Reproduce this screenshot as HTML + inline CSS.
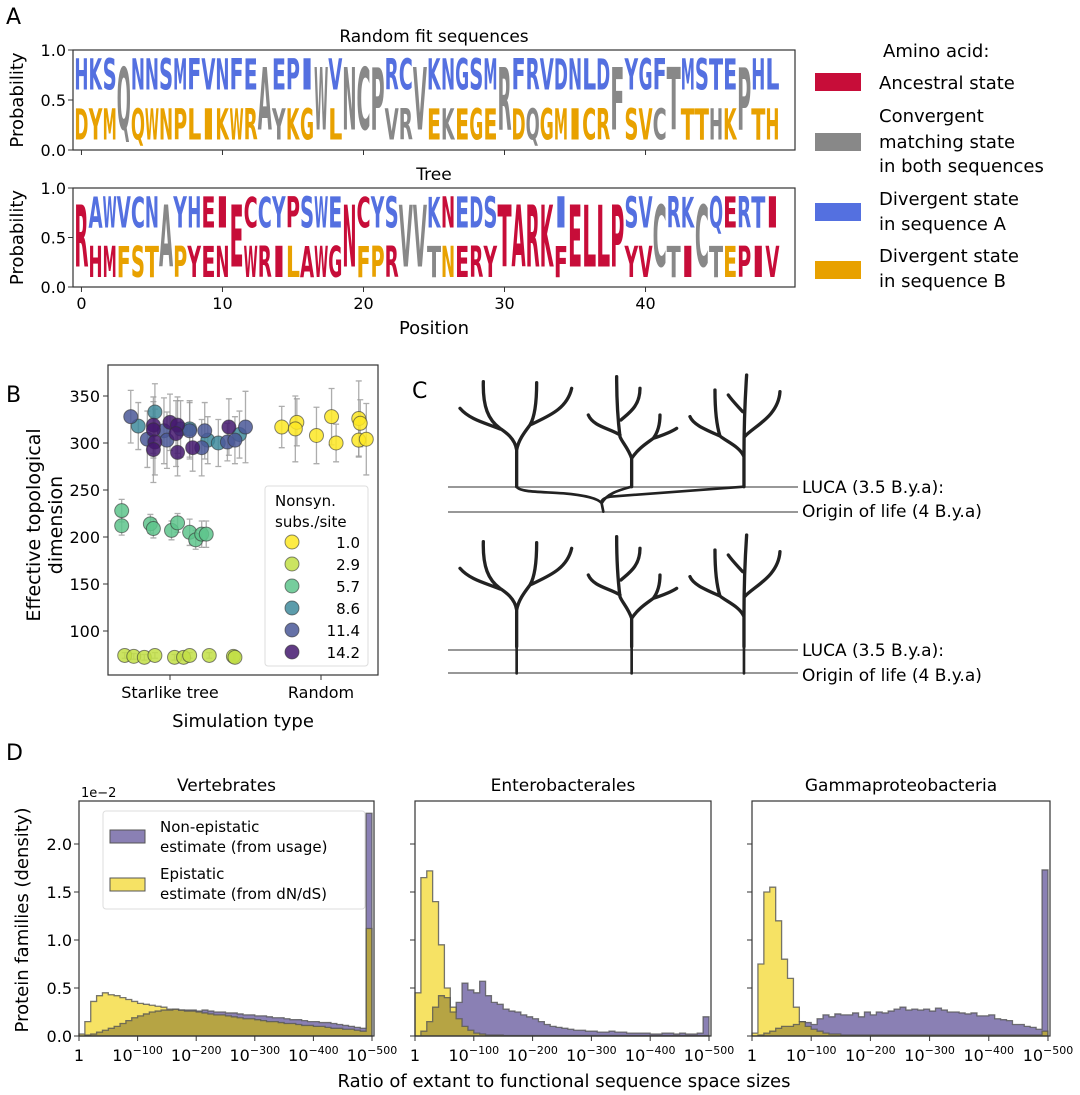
<!DOCTYPE html>
<html><head><meta charset="utf-8">
<style>
html,body{margin:0;padding:0;background:#fff;}
svg{display:block;font-family:"DejaVu Sans","Liberation Sans",sans-serif;}
</style></head>
<body>
<svg id="fig" width="1080" height="1095" viewBox="0 0 1080 1095" xmlns="http://www.w3.org/2000/svg">
<g id="panelA"></g>
<g id="panelB"></g>
<g id="panelC"></g>
<g id="panelD"></g>
</svg>
<script>
// ---------- Panel A data ----------
const aPositions = [0,10,20,30,40];
const randTop    = "HKSQNNSMFVNFEAEPIWVNCPRCVKNGSMRFRVDNLDFYGFTMSTEPHL".split("");
const randBot    = "DYMQQWNPLIKWRAYKGWLNCPVRVEKEGERDQGMICRFSVCTTTHKPTH".split("");
const randTopCol = "bbbgbbbbbbbbbgbbbgbgggbbgbbbbbgbbbbbbbgbbbgbbbbgbb".split("");
const randBotCol = "ooogoooooooooogoooogogggoogooooogoooooooogooogoooogoo".split("").slice(0,50);
const treeTop    = "RAWVCNAYHEIECCYPSWENCYSVVKNEDSTARKIELLPSVCRKCQERTI".split("");
const treeBot    = "RHMFSTAPYENEWRILAWGNFPRVVTNERYTARKFELLPYVCTICTEPIV".split("");
const treeTopCol = "rbbbbbgbbrrrrbbrbbbrrbbggbrbbbrrrrbrrrrbbgbbgbrbbr".split("");
const treeBotCol = "rrrooogoryrrrrrorrrroorrggorrrrrrrrrrrrrrrgrrgorrrr".split("");
// ---------- Panel B data ----------
const bLegend = ["1.0","2.9","5.7","8.6","11.4","14.2"];
const bColors = ["#fde725","#c2df45","#5ec48c","#3f8b9c","#4a5898","#44196e"];
const s1x=[0.74,0.84,0.83,0.97,1.07,1.10,1.25,1.26,1.25,1.30];
const s1y=[317,322,315,308,328,300,326,321,303,304];
const s1e=[22,25,35,30,30,20,40,25,18,38];
const s2x=[-0.30,-0.24,-0.17,-0.10,0.03,0.09,0.13,0.26,0.42,0.43];
const s2y=[74,73,72,74,72,72,74,74,73,72];
const s2e=[3,3,3,3,3,3,3,3,4,4];
const s3x=[-0.32,-0.32,-0.13,-0.11,0.01,0.05,0.13,0.17,0.21,0.24];
const s3y=[228,212,214,209,207,215,205,197,203,203];
const s3e=[12,10,10,10,10,10,14,10,14,14];
const s4x=[-0.21,-0.10,0.07,0.13,0.25,0.32,0.46];
const s4y=[318,333,315,315,303,300,309];
const s4e=[25,30,30,30,25,25,25];
const s5x=[-0.26,-0.15,-0.04,-0.02,0.13,0.23,0.21,0.38,0.43,0.50];
const s5y=[328,304,313,303,313,313,295,301,303,317];
const s5e=[28,30,35,30,30,30,30,20,25,38];
const s6x=[-0.11,-0.11,-0.10,-0.11,0.00,0.05,0.04,0.05,0.15,0.39];
const s6y=[319,314,301,293,322,319,310,290,295,317];
const s6e=[30,30,35,35,30,30,35,25,25,30];
const bTicks=[100,150,200,250,300,350];
const bCats=["Starlike tree","Random"];
// ---------- Panel D data ----------
const dTitles=["Vertebrates","Enterobacterales","Gammaproteobacteria"];
const dYTicks=[0.0,0.5,1.0,1.5,2.0];
const dXTicks=[0,100,200,300,400,500];
const vertEpi=[0.02,0.15,0.36,0.42,0.45,0.43,0.42,0.40,0.38,0.36,0.34,0.33,0.32,0.31,0.30,0.28,0.28,0.27,0.26,0.26,0.25,0.24,0.23,0.22,0.22,0.21,0.20,0.19,0.18,0.18,0.17,0.16,0.15,0.15,0.14,0.13,0.13,0.12,0.11,0.11,0.10,0.10,0.09,0.08,0.08,0.07,0.07,0.06,0.05,1.12];
const vertNon=[0,0.01,0.02,0.04,0.06,0.08,0.10,0.13,0.16,0.19,0.21,0.23,0.25,0.26,0.27,0.27,0.28,0.27,0.27,0.27,0.26,0.27,0.26,0.25,0.25,0.24,0.24,0.23,0.22,0.22,0.21,0.21,0.20,0.19,0.19,0.18,0.17,0.17,0.16,0.15,0.15,0.14,0.14,0.13,0.12,0.11,0.10,0.09,0.08,2.32];
const entEpi=[0.45,1.65,1.72,1.40,0.95,0.50,0.30,0.18,0.10,0.06,0.03,0.02,0.01,0.01,0.01,0.005,0.005,0.005,0.005,0.005,0.005,0.005,0.005,0.005,0.005,0.005,0.005,0.005,0.005,0.005,0.005,0.005,0.005,0.005,0.005,0.005,0.005,0.005,0.005,0.005,0.005,0.005,0.005,0.005,0.005,0.005,0.005,0.005,0.005,0.005];
const entNon=[0,0.05,0.15,0.30,0.42,0.40,0.25,0.35,0.55,0.48,0.45,0.57,0.42,0.35,0.33,0.28,0.26,0.25,0.22,0.20,0.18,0.15,0.12,0.10,0.09,0.08,0.07,0.06,0.06,0.05,0.05,0.04,0.04,0.05,0.04,0.04,0.03,0.03,0.03,0.03,0.02,0.02,0.03,0.03,0.02,0.03,0.02,0.02,0.03,0.20];
const gamEpi=[0.03,0.75,1.50,1.55,1.20,0.80,0.60,0.30,0.15,0.10,0.07,0.05,0.03,0.02,0.02,0.01,0.01,0.01,0.01,0.01,0.01,0.01,0.01,0.01,0.01,0.01,0.01,0.01,0.01,0.01,0.01,0.01,0.01,0.01,0.01,0.01,0.01,0.01,0.01,0.01,0.01,0.01,0.01,0.01,0.01,0.01,0.01,0.01,0.01,0.05];
const gamNon=[0,0.01,0.03,0.05,0.08,0.10,0.10,0.12,0.15,0.14,0.12,0.18,0.22,0.20,0.23,0.22,0.22,0.24,0.20,0.25,0.22,0.25,0.24,0.26,0.28,0.30,0.27,0.28,0.27,0.28,0.26,0.29,0.27,0.25,0.25,0.24,0.23,0.24,0.21,0.21,0.22,0.18,0.17,0.16,0.12,0.12,0.10,0.09,0.07,1.73];

const NS="http://www.w3.org/2000/svg";
function el(parent,tag,attrs,text){const e=document.createElementNS(NS,tag);for(const k in attrs)e.setAttribute(k,attrs[k]);if(text!==undefined)e.textContent=text;parent.appendChild(e);return e;}
const COL={r:"#c70d39",b:"#5470e0",o:"#e8a100",g:"#888888",y:"#c70d39"};

// ---------- Panel A ----------
const A=document.getElementById('panelA');
let t;
t=el(A,'text',{x:6,y:24,'font-size':22});t.textContent="A";

const ax0=73, ax1=795, axMin=-0.6, axMax=50.6;
function xA(p){return ax0+(p-axMin)/(axMax-axMin)*(ax1-ax0);}
function drawLetter(g,ch,cx,w,yTop,h,color){
  const tx=el(g,'text',{x:0,y:0,'font-size':100,'font-weight':'bold',fill:color},ch);
  
  
  const bb=tx.getBBox();
  const sx=w/bb.width, sy=h/bb.height;
  tx.setAttribute('transform',`translate(${cx-w/2},${yTop}) scale(${sx},${sy}) translate(${-bb.x},${-bb.y})`);
}
function logo(yT,yB,title,tops,bots,tc,bc,name){
  const g=el(A,'g',{});
  
  
  const tt=el(g,'text',{x:434,y:yT-8,'font-size':17,'text-anchor':'middle'},title);
  
  const h=yB-yT, w=xA(1)-xA(0);
  for(let i=0;i<tops.length;i++){
    const cx=xA(i);
    if(tc[i]==='g' || (tops[i]===bots[i] && tc[i]===bc[i])){
      drawLetter(g,tops[i],cx,w,yT,h,COL[tc[i]]);
    } else {
      drawLetter(g,tops[i],cx,w,yT,h/2,COL[tc[i]]);
      drawLetter(g,bots[i],cx,w,yT+h/2,h/2,COL[bc[i]]);
    }
  }
  el(g,'rect',{x:ax0,y:yT,width:ax1-ax0,height:h,fill:'none',stroke:'#333','stroke-width':1.2});
  [[1.0,yT],[0.5,(yT+yB)/2],[0.0,yB]].forEach(([v,y])=>{
    el(g,'line',{x1:ax0-5,y1:y,x2:ax0,y2:y,stroke:'#333'});
    const l=el(g,'text',{x:ax0-7,y:y+6,'font-size':16,'text-anchor':'end'},v.toFixed(1));
    
  });
  const yl=el(g,'text',{x:0,y:0,'font-size':18,'text-anchor':'middle',transform:`translate(23,${(yT+yB)/2}) rotate(-90)`},"Probability");
  
  aPositions.forEach(p=>el(g,'line',{x1:xA(p),y1:yB,x2:xA(p),y2:yB+5,stroke:'#333'}));
}
logo(50,150,"Random fit sequences",randTop,randBot,randTopCol,randBotCol,'logo-random');
logo(188,287,"Tree",treeTop,treeBot,treeTopCol,treeBotCol,'logo-tree');
aPositions.forEach(p=>{const l=el(A,'text',{x:xA(p),y:309,'font-size':16,'text-anchor':'middle'},String(p));
  });
t=el(A,'text',{x:434,y:334,'font-size':18,'text-anchor':'middle'},"Position");

// legend A
const legA=el(A,'g',{});

el(legA,'text',{x:883,y:57,'font-size':18},"Amino acid:");
const legRows=[[73,'r',[["Ancestral state",89]]],[133,'g',[["Convergent",122],["matching state",148],["in both sequences",172]]],[203,'b',[["Divergent state",205],["in sequence A",230]]],[261,'o',[["Divergent state",262],["in sequence B",287]]]];
legRows.forEach(([y,c,lines])=>{
  const r=el(legA,'rect',{x:815,y:y,width:46,height:18,fill:COL[c]});
  
  lines.forEach(([s,by])=>el(legA,'text',{x:879,y:by,'font-size':18},s));
});

// ---------- Panel B ----------
const B=document.getElementById('panelB');
t=el(B,'text',{x:6,y:402,'font-size':22},"B");

const bx0=108,bx1=378,by0=365,by1=675;
function xB(v){return 170+v*151;}
function yB(v){return 443-(v-300)*0.94;}
el(B,'rect',{x:bx0,y:by0,width:bx1-bx0,height:by1-by0,fill:'none',stroke:'#333','stroke-width':1.2});
bTicks.forEach(v=>{el(B,'line',{x1:bx0-5,y1:yB(v),x2:bx0,y2:yB(v),stroke:'#333'});
  const l=el(B,'text',{x:bx0-8,y:yB(v)+6,'font-size':16,'text-anchor':'end'},String(v));
  });
bCats.forEach((c,i)=>{el(B,'line',{x1:xB(i),y1:by1,x2:xB(i),y2:by1+5,stroke:'#333'});
  const l=el(B,'text',{x:xB(i),y:by1+23,'font-size':16,'text-anchor':'middle'},c);
  });
t=el(B,'text',{x:243,y:727,'font-size':18,'text-anchor':'middle'},"Simulation type");

t=el(B,'text',{x:0,y:0,'font-size':19,'text-anchor':'middle',transform:'translate(40,525) rotate(-90)'},"Effective topological");

el(B,'text',{x:0,y:0,'font-size':19,'text-anchor':'middle',transform:'translate(62,525) rotate(-90)'},"dimension");
const series=[[s1x,s1y,s1e],[s2x,s2y,s2e],[s3x,s3y,s3e],[s4x,s4y,s4e],[s5x,s5y,s5e],[s6x,s6y,s6e]];
series.forEach(([xs,ys,es])=>{xs.forEach((x,i)=>{
  const cx=xB(x),a=yB(ys[i]+es[i]),b=yB(ys[i]-es[i]);
  el(B,'path',{d:`M${cx},${a}V${b}M${cx-3},${a}h6M${cx-3},${b}h6`,stroke:'#999','stroke-width':1.3,opacity:0.8,fill:'none'});
});});
series.forEach(([xs,ys],k)=>{xs.forEach((x,i)=>{
  const c=el(B,'circle',{cx:xB(x),cy:yB(ys[i]),r:7,fill:bColors[k],'fill-opacity':0.85,stroke:'#333','stroke-opacity':0.6,'stroke-width':1});
  
  
});});
const legB=el(B,'g',{});

el(legB,'rect',{x:265,y:486,width:103,height:180,rx:3,fill:'#fff','fill-opacity':0.85,stroke:'#ddd'});
el(legB,'text',{x:275,y:506,'font-size':15},"Nonsyn.");
el(legB,'text',{x:275,y:527,'font-size':15},"subs./site");
bLegend.forEach((s,i)=>{const y=542+i*22;
  el(legB,'circle',{cx:292,cy:y,r:7,fill:bColors[i],'fill-opacity':0.85,stroke:'#333','stroke-opacity':0.6});
  el(legB,'text',{x:360,y:y+6,'font-size':15,'text-anchor':'end'},s);});

// ---------- Panel C ----------
const C=document.getElementById('panelC');
t=el(C,'text',{x:412,y:398,'font-size':22},"C");

el(C,'line',{x1:448,y1:487,x2:798,y2:487,stroke:'#777','stroke-width':1.5});
el(C,'line',{x1:448,y1:512,x2:798,y2:512,stroke:'#777','stroke-width':1.5});
el(C,'line',{x1:448,y1:650,x2:798,y2:650,stroke:'#777','stroke-width':1.5});
el(C,'line',{x1:448,y1:673,x2:798,y2:673,stroke:'#777','stroke-width':1.5});
[["LUCA (3.5 B.y.a):",493],["Origin of life (4 B.y.a)",517],["LUCA (3.5 B.y.a):",656],["Origin of life (4 B.y.a)",681]].forEach(([s,y])=>{
  const l=el(C,'text',{x:802,y:y,'font-size':17},s);});
const treePaths=[
 "M290,380V270 C285,235 255,215 240,205 C205,180 188,140 190,65 M240,207 C200,190 150,180 120,145 M290,270 C295,240 315,215 330,195 C345,170 350,120 350,68 M330,195 C380,170 440,150 455,85",
 "M635,380V295 C625,265 605,245 600,230 C595,190 590,120 590,50 M600,225 C570,205 520,200 505,165 M603,180 C625,160 660,140 660,85 M635,295 C655,265 680,250 700,235 C715,215 720,190 720,165 M700,235 C730,225 755,215 770,205",
 "M972,380V290 C960,260 920,245 900,228 C888,190 885,140 885,90 M900,228 C860,210 820,195 810,170 M972,290 C972,210 975,120 980,45 M968,155 C950,135 935,120 925,105 M974,230 C1000,200 1075,170 1080,95"];
function trees(dy,extra){
  const g=el(C,'g',{transform:`translate(420,${360+dy/3}) scale(0.3333)`,fill:'none',stroke:'#222','stroke-width':10,'stroke-linecap':'round'});
  
  treePaths.forEach(d=>el(g,'path',{d:d}));
  if(extra) el(g,'path',{d:extra,'stroke-width':8});
}
trees(0,"M290,380 C300,397 360,395 430,400 C490,405 535,415 545,430 L550,455 M972,380 L570,410 C550,414 543,420 545,430 M635,380 C600,390 560,400 545,430");
trees(480,"M290,380V460 M635,380V460 M972,380V460");

// ---------- Panel D ----------
const D=document.getElementById('panelD');
t=el(D,'text',{x:6,y:760,'font-size':22},"D");

const dAxes=[[79,374],[415,711],[752,1050]];
const dY0=801,dY1=1036;
function yD(v){return dY1-v*96;}
const dData=[[vertNon,vertEpi],[entNon,entEpi],[gamNon,gamEpi]];
function stepPath(x,vals,base){
  let d=`M${x(0)},${base}`;
  vals.forEach((v,i)=>{d+=`V${yD(v)}H${x((i+1)*10)}`;});
  return d+`V${base}Z`;
}
dAxes.forEach(([x0,x1],k)=>{
  const g=el(D,'g',{});
  
  
  const x=e=>x0+e*0.586*(x1-x0)/295;
  const [non,epi]=dData[k];
  const ov=non.map((v,i)=>Math.min(v,epi[i]));
  const p1=el(g,'path',{d:stepPath(x,non,dY1),fill:'#8a80b4'});
  const p2=el(g,'path',{d:stepPath(x,epi,dY1),fill:'#f6e264'});
  el(g,'path',{d:stepPath(x,ov,dY1),fill:'#b6a444'});
  el(g,'path',{d:stepPath(x,non,dY1),fill:'none',stroke:'#555','stroke-width':1.3,opacity:0.8});
  el(g,'path',{d:stepPath(x,epi,dY1),fill:'none',stroke:'#555','stroke-width':1.3,opacity:0.8});
  el(g,'rect',{x:x0,y:dY0,width:x1-x0,height:dY1-dY0,fill:'none',stroke:'#333','stroke-width':1.2});
  const tt=el(g,'text',{x:(x0+x1)/2,y:791,'font-size':17,'text-anchor':'middle'},dTitles[k]);
  
  dYTicks.forEach(v=>{el(g,'line',{x1:x0-5,y1:yD(v),x2:x0,y2:yD(v),stroke:'#333'});
    if(k===0){const l=el(g,'text',{x:x0-7,y:yD(v)+6,'font-size':16,'text-anchor':'end'},v.toFixed(1));
      }});
  dXTicks.forEach(e=>{const xx=x(e);
    el(g,'line',{x1:xx,y1:dY1,x2:xx,y2:dY1+5,stroke:'#333'});
    const l=el(g,'text',{x:xx,y:1061,'font-size':16,'text-anchor':'middle'});
    
    if(e===0){l.textContent="1";}
    else{el(l,'tspan',{},"10");el(l,'tspan',{dy:-7,'font-size':11},"\u2212"+e);}
  });
});
t=el(D,'text',{x:81,y:797,'font-size':13},"1e\u22122");

t=el(D,'text',{x:0,y:0,'font-size':18,'text-anchor':'middle',transform:'translate(28,920) rotate(-90)'},"Protein families (density)");

t=el(D,'text',{x:564,y:1087,'font-size':18,'text-anchor':'middle'},"Ratio of extant to functional sequence space sizes");

const legD=el(D,'g',{});

el(legD,'rect',{x:103,y:811,width:262,height:98,rx:3,fill:'#fff','fill-opacity':0.9,stroke:'#ddd'});
el(legD,'rect',{x:110,y:830,width:35,height:13,fill:'#8a80b4',stroke:'#555'});
el(legD,'rect',{x:110,y:878,width:35,height:13,fill:'#f6e264',stroke:'#555'});
el(legD,'text',{x:160,y:832,'font-size':15},"Non-epistatic");
el(legD,'text',{x:160,y:852,'font-size':15},"estimate (from usage)");
el(legD,'text',{x:160,y:879,'font-size':15},"Epistatic");
el(legD,'text',{x:160,y:899,'font-size':15},"estimate (from dN/dS)");
</script>
</body></html>
